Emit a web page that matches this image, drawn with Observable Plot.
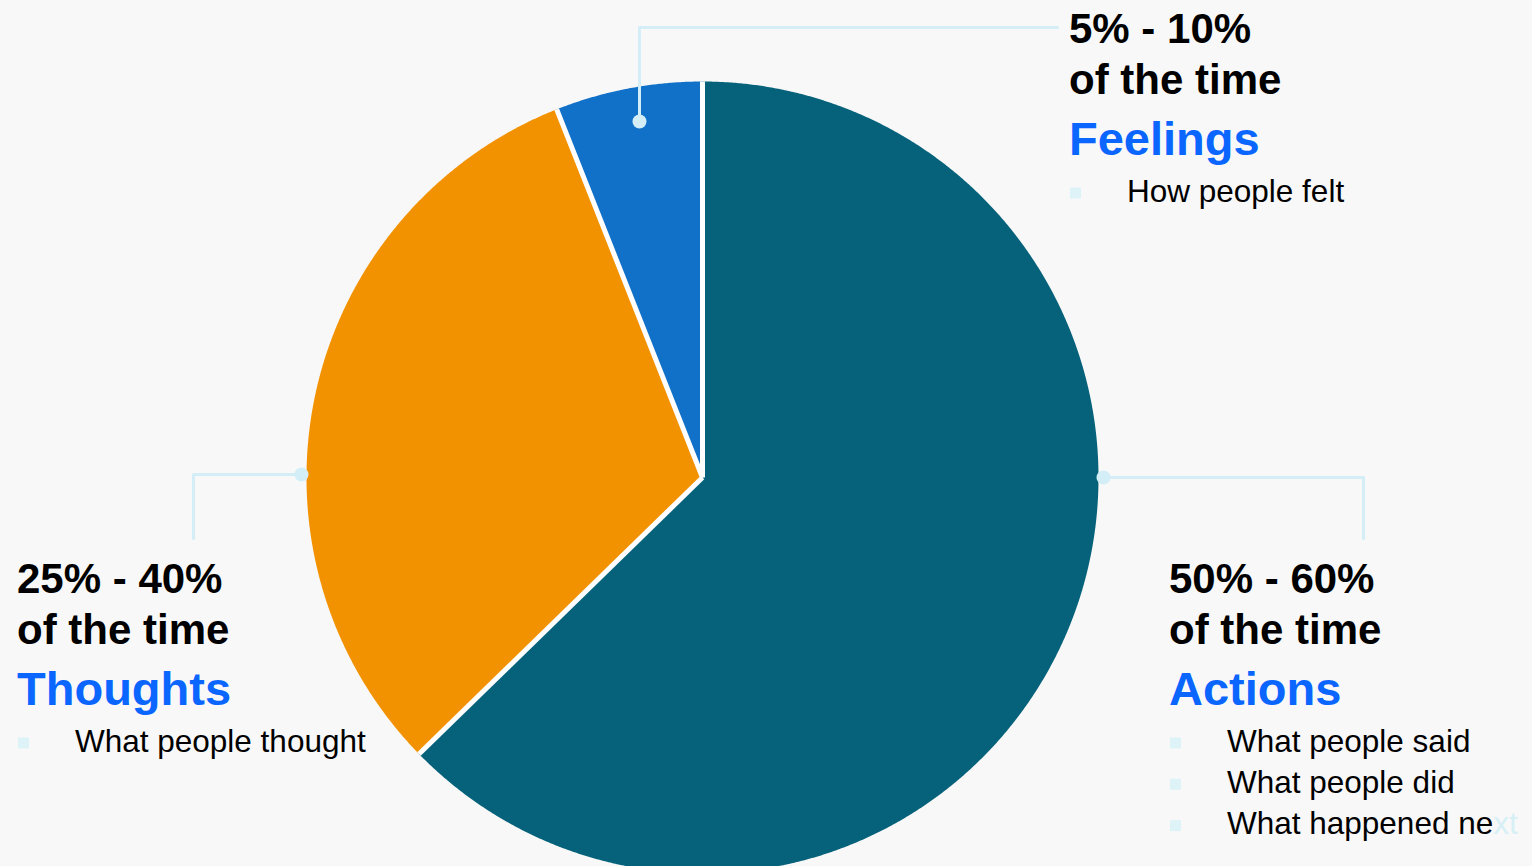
<!DOCTYPE html>
<html>
<head>
<meta charset="utf-8">
<script src="https://cdn.jsdelivr.net/npm/d3@7"></script>
<script src="https://cdn.jsdelivr.net/npm/@observablehq/plot@0.6"></script>
<style>
  html, body { margin: 0; padding: 0; background: #f8f8f8; }
  #wrap { position: relative; width: 1532px; height: 866px; overflow: hidden; background: #f8f8f8; }
  #chart, #labels { position: absolute; left: 0; top: 0; }
  #labels { pointer-events: none; }
</style>
</head>
<body>
<div id="wrap">
  <div id="chart"></div>
  <svg id="labels" width="1532" height="866"></svg>
</div>
<script>
// ---- data ----
const categories = ["Actions", "Thoughts", "Feelings"];
const shares = [62.7, 31.3, 6.0];
const rangeLabels = ["50% - 60%", "25% - 40%", "5% - 10%"];
const subLabel = "of the time";
const actionsItems = ["What people said", "What people did", "What happened next"];
const thoughtsItems = ["What people thought"];
const feelingsItems = ["How people felt"];

// ---- style / layout ----
const sliceColors = ["#05627a", "#f39200", "#1170c8"];
const W = 1532, H = 866;
const cx = 702, cy = 477, R = 396;
const leaderColor = "#d3eef6";
const labelBlue = "#0a66ff";

const rows = categories.map((c, i) => ({cat: c, share: shares[i]}));
const arcs = d3.pie().sort(null).value(d => d.share)(rows);

// polygon outline of each slice in unit coordinates (y up)
const slicePts = arcs.flatMap(a => {
  const cat = a.data.cat;
  const pts = [{cat, x: 0, y: 0}];
  const n = Math.max(2, Math.ceil((a.endAngle - a.startAngle) / (Math.PI / 720)));
  for (let i = 0; i <= n; i++) {
    const t = a.startAngle + (a.endAngle - a.startAngle) * i / n;
    pts.push({cat, x: Math.sin(t), y: Math.cos(t)});
  }
  return pts;
});
const boundaries = arcs.map(a => ({a: a.startAngle}));

// callouts (pixel layout converted to unit coordinates)
const ux = px => (px - cx) / R, uy = py => (cy - py) / R;
const callouts = [
  {cat: "Feelings", pts: [[639, 121], [639, 27], [1057, 27]]},
  {cat: "Actions", pts: [[cx + R + 5, 477], [1363, 477], [1363, 538]]},
  {cat: "Thoughts", pts: [[cx - R - 5, 474], [193, 474], [193, 538]]}
];
const leaderPts = callouts.flatMap(c => c.pts.map(p => ({cat: c.cat, x: ux(p[0]), y: uy(p[1])})));
const leaderDots = callouts.map(c => ({cat: c.cat, x: ux(c.pts[0][0]), y: uy(c.pts[0][1])}));

const plot = Plot.plot({
  width: W,
  height: H,
  marginLeft: cx - R,
  marginRight: W - (cx + R),
  marginTop: cy - R,
  marginBottom: 0,
  style: {background: "transparent", overflow: "visible"},
  x: {domain: [-1, 1], axis: null},
  y: {domain: [-(H - cy) / R, 1], axis: null},
  color: {domain: categories, range: sliceColors},
  marks: [
    Plot.line(slicePts, {x: "x", y: "y", z: "cat", fill: "cat", stroke: "none", curve: "linear-closed"}),
    Plot.link(boundaries, {x1: 0, y1: 0, x2: d => Math.sin(d.a), y2: d => Math.cos(d.a), stroke: "white", strokeWidth: 5}),
    Plot.line(leaderPts, {x: "x", y: "y", z: "cat", stroke: leaderColor, strokeWidth: 3}),
    Plot.dot(leaderDots, {x: "x", y: "y", r: 7, fill: leaderColor, stroke: "none"})
  ]
});
document.getElementById("chart").appendChild(plot);

// ---- text labels ----
const svg = d3.select("#labels");
const font = "'Liberation Sans', Arial, Helvetica, sans-serif";
function group(x, bulletX, textX, baselines, range, name, items) {
  svg.append("text").attr("x", x).attr("y", baselines[0]).attr("font-family", font)
    .attr("font-weight", "bold").attr("font-size", 42).attr("fill", "#000").text(range);
  svg.append("text").attr("x", x).attr("y", baselines[1]).attr("font-family", font)
    .attr("font-weight", "bold").attr("font-size", 42).attr("fill", "#000").text(subLabel);
  svg.append("text").attr("x", x).attr("y", baselines[2]).attr("font-family", font)
    .attr("font-weight", "bold").attr("font-size", 47).attr("fill", labelBlue).text(name);
  items.forEach((it, i) => {
    const b = baselines[3] + i * 41.3;
    svg.append("rect").attr("x", bulletX).attr("y", b - 14).attr("width", 11).attr("height", 11).attr("fill", "#ddf3f8");
    const t = svg.append("text").attr("x", textX).attr("y", b).attr("font-family", font)
      .attr("font-size", 31.5).attr("fill", "#000");
    if (it === "What happened next") {
      t.append("tspan").text("What happened ne");
      t.append("tspan").attr("fill", "#d6f0f6").text("xt");
    } else {
      t.text(it);
    }
  });
}
group(1069, 1070, 1127, [43, 94, 155, 201.5], rangeLabels[2], categories[2], feelingsItems);
group(1169, 1170, 1227, [593, 644, 705, 751.5], rangeLabels[0], categories[0], actionsItems);
group(17, 18, 75, [593, 644, 705, 751.5], rangeLabels[1], categories[1], thoughtsItems);
</script>
</body>
</html>
